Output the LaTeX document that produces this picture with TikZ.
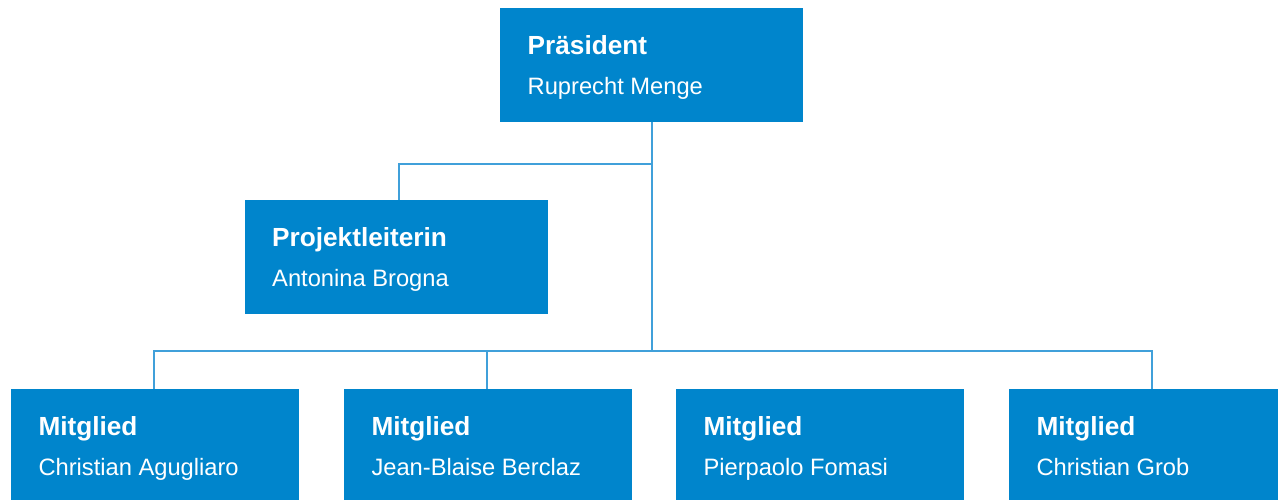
\documentclass[tikz,border=0pt]{standalone}
\usepackage{fontspec}
\setmainfont{Liberation Sans}
\definecolor{boxblue}{RGB}{0,133,204}
\definecolor{lineblue}{RGB}{64,160,218}
\begin{document}
\begin{tikzpicture}[x=1pt,y=-1pt,
  box/.style={fill=boxblue, draw=none, anchor=north west, inner sep=0pt, minimum width=303pt, minimum height=113.5pt},
  mbox/.style={box, minimum width=288pt, minimum height=125pt},
  ttl/.style={anchor=base west, text=white, font=\fontsize{26.2}{30}\selectfont\bfseries, inner sep=0pt},
  nm/.style={anchor=base west, text=white, font=\fontsize{23.7}{28}\selectfont, inner sep=0pt},
  conn/.style={draw=lineblue, line width=1.4pt}]
\clip (0,0) rectangle (1278,500);
\useasboundingbox (0,0) rectangle (1278,500);
% boxes
\node[box] (pres) at (500,8) {};
\node[box] (proj) at (245,200) {};
\node[mbox] (m1) at (11,389) {};
\node[mbox] (m2) at (344,389) {};
\node[mbox] (m3) at (676,389) {};
\node[mbox] (m4) at (1009,389) {};
% texts
\node[ttl] (presT) at (527.5,54.3) {Präsident};
\node[nm]  (presN) at (527.5,94.3) {Ruprecht Menge};
\node[ttl] (projT) at (272,246.3) {Projektleiterin};
\node[nm]  (projN) at (272,286.3) {Antonina Brogna};
\node[ttl] (m1T) at (38.3,435) {Mitglied};
\node[nm]  (m1N) at (38.3,475) {Christian Agugliaro};
\node[ttl] (m2T) at (371.3,435) {Mitglied};
\node[nm]  (m2N) at (371.3,475) {Jean-Blaise Berclaz};
\node[ttl] (m3T) at (703.3,435) {Mitglied};
\node[nm]  (m3N) at (703.3,475) {Pierpaolo Fomasi};
\node[ttl] (m4T) at (1036.3,435) {Mitglied};
\node[nm]  (m4N) at (1036.3,475) {Christian Grob};
% connectors
\coordinate (j0) at (652,164);
\coordinate (j1) at (652,351);
\coordinate (d1) at (154,351);
\coordinate (d2) at (487,351);
\coordinate (d4) at (1152,351);
\coordinate (dp) at (399,164);
\draw[conn] (j0 |- pres.south) -- (j1);
\draw[conn] (j0) -- (dp) -- (dp |- proj.north);
\draw[conn] (d1 |- m1.north) -- (d1) -- (d4) -- (d4 |- m4.north);
\draw[conn] (d2) -- (d2 |- m2.north);
\end{tikzpicture}
\end{document}
